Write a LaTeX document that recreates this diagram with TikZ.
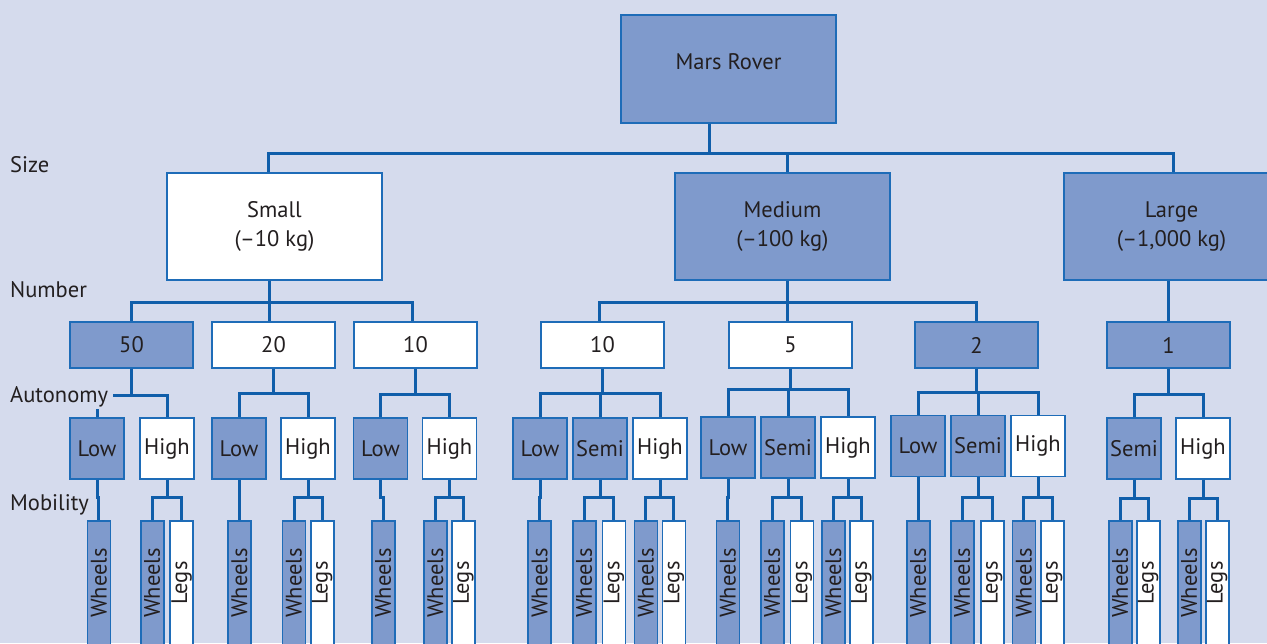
\documentclass[tikz,border=0pt]{standalone}
\usepackage{fontspec}
\setmainfont{PT Sans}
\definecolor{bg}{RGB}{213,219,237}
\definecolor{dark}{RGB}{127,154,204}
\definecolor{bord}{RGB}{30,108,184}
\definecolor{lin}{RGB}{16,94,170}
\definecolor{txt}{RGB}{35,31,32}
\newcommand{\mkfan}[3]{\foreach \c in {#3} \draw[conn] (#1) -- (#1 |- 0,#2) -| (\c.north);}
\begin{document}
\begin{tikzpicture}[x=1pt,y=-1pt,
  every node/.style={font=\fontsize{22.5}{28.5}\selectfont, text=txt},
  box/.style={draw=bord, line width=1.6pt, inner sep=0pt, align=center},
  dk/.style={box, fill=dark},
  wt/.style={box, fill=white},
  top/.style={minimum width=215pt, minimum height=107pt},
  num/.style={minimum width=123pt, minimum height=46pt},
  aut/.style={minimum width=54pt, minimum height=61pt},
  mob/.style={minimum width=23pt, minimum height=124pt},
  conn/.style={draw=lin, line width=3pt},
  lvl/.style={anchor=base west, inner sep=0pt}]
\clip (0,0) rectangle (1267,643);
\fill[bg] (0,0) rectangle (1267,643);

% level 0 and 1
\node[dk,top,minimum height=108pt] (mars) at (728.5,69) {};
\node[inner sep=0pt] (marst) at (728.5,62) {Mars Rover};
\node[wt,top] (small) at (274.5,226.5) {Small\\(–10 kg)};
\node[dk,top] (medium) at (782.5,226.5) {Medium\\(–100 kg)};
\node[dk,top] (large) at (1171.5,226.5) {Large\\(–1,000 kg)};

% number level
\node[dk,num] (n50) at (131.5,345) {50};
\node[wt,num] (n20) at (273.5,345) {20};
\node[wt,num] (n10s) at (415.5,345) {10};
\node[wt,num] (n10m) at (602.5,345) {10};
\node[wt,num] (n5) at (790.5,345) {5};
\node[dk,num] (n2) at (976.5,345) {2};
\node[dk,num] (n1) at (1168.5,345) {1};

% autonomy level
\node[dk,aut] (a50l) at (97,448.5) {Low};
\node[wt,aut] (a50h) at (167,448.5) {High};
\node[dk,aut] (a20l) at (239,448.5) {Low};
\node[wt,aut] (a20h) at (308,448.5) {High};
\node[dk,aut] (a10l) at (380.5,448.5) {Low};
\node[wt,aut] (a10h) at (449.5,448.5) {High};
\node[dk,aut] (b10l) at (540,448.5) {Low};
\node[dk,aut] (b10s) at (600,448.5) {Semi};
\node[wt,aut] (b10h) at (660,448.5) {High};
\node[dk,aut] (b5l) at (728,447.5) {Low};
\node[dk,aut] (b5s) at (788,447.5) {Semi};
\node[wt,aut] (b5h) at (848,447.5) {High};
\node[dk,aut] (b2l) at (918,446) {Low};
\node[dk,aut] (b2s) at (978,446) {Semi};
\node[wt,aut] (b2h) at (1038,446) {High};
\node[dk,aut] (c1s) at (1134,448.5) {Semi};
\node[wt,aut] (c1h) at (1203,448.5) {High};

% mobility level
\node[dk,mob] (a50lw) at (98.8,583) {\rotatebox{90}{Wheels}};
\node[dk,mob] (a50hw) at (152.2,583) {\rotatebox{90}{Wheels}};
\node[wt,mob] (a50hl) at (181.7,583) {\rotatebox{90}{Legs}};
\node[dk,mob] (a20lw) at (239.3,583) {\rotatebox{90}{Wheels}};
\node[dk,mob] (a20hw) at (294,583) {\rotatebox{90}{Wheels}};
\node[wt,mob] (a20hl) at (322.2,583) {\rotatebox{90}{Legs}};
\node[dk,mob] (a10lw) at (383.2,583) {\rotatebox{90}{Wheels}};
\node[dk,mob] (a10hw) at (435.5,583) {\rotatebox{90}{Wheels}};
\node[wt,mob] (a10hl) at (463.5,583) {\rotatebox{90}{Legs}};
\node[dk,mob] (b10lw) at (539.7,583) {\rotatebox{90}{Wheels}};
\node[dk,mob] (b10sw) at (584.2,583) {\rotatebox{90}{Wheels}};
\node[wt,mob] (b10sl) at (613.8,583) {\rotatebox{90}{Legs}};
\node[dk,mob] (b10hw) at (645.8,583) {\rotatebox{90}{Wheels}};
\node[wt,mob] (b10hl) at (673.8,583) {\rotatebox{90}{Legs}};
\node[dk,mob] (b5lw) at (727.8,583) {\rotatebox{90}{Wheels}};
\node[dk,mob] (b5sw) at (772.2,583) {\rotatebox{90}{Wheels}};
\node[wt,mob] (b5sl) at (801.8,583) {\rotatebox{90}{Legs}};
\node[dk,mob] (b5hw) at (833.5,583) {\rotatebox{90}{Wheels}};
\node[wt,mob] (b5hl) at (861.5,583) {\rotatebox{90}{Legs}};
\node[dk,mob] (b2lw) at (918.2,583) {\rotatebox{90}{Wheels}};
\node[dk,mob] (b2sw) at (962.2,583) {\rotatebox{90}{Wheels}};
\node[wt,mob] (b2sl) at (992.2,583) {\rotatebox{90}{Legs}};
\node[dk,mob] (b2hw) at (1023.8,583) {\rotatebox{90}{Wheels}};
\node[wt,mob] (b2hl) at (1052.2,583) {\rotatebox{90}{Legs}};
\node[dk,mob] (c1sw) at (1120.2,583) {\rotatebox{90}{Wheels}};
\node[wt,mob] (c1sl) at (1148.2,583) {\rotatebox{90}{Legs}};
\node[dk,mob] (c1hw) at (1189.2,583) {\rotatebox{90}{Wheels}};
\node[wt,mob] (c1hl) at (1217.2,583) {\rotatebox{90}{Legs}};

% drop points
\coordinate (md) at ([xshift=-19.5pt]mars.south);
\coordinate (sd) at ([xshift=-6.5pt]small.north);
\coordinate (med) at ([xshift=4.5pt]medium.north);
\coordinate (ld) at ([xshift=1.5pt]large.north);
\coordinate (ss) at ([xshift=-5.5pt]small.south);
\coordinate (ms) at ([xshift=4.5pt]medium.south);
\coordinate (ls) at ([xshift=-3pt]large.south);
\coordinate (n20t) at ([xshift=-4.5pt]n20.north);
\coordinate (n10st) at ([xshift=-3.5pt]n10s.north);
\coordinate (n10mt) at ([xshift=-3.5pt]n10m.north);
\coordinate (n5t) at ([xshift=-3.5pt]n5.north);

% connectors
\foreach \c in {sd,med,ld} \draw[conn] (md) -- (md |- 0,153) -| (\c);
\draw[conn] (ss) -- (ss |- 0,302.5) -| (n50.north);
\foreach \c in {n20t,n10st} \draw[conn] (ss) -- (ss |- 0,302.5) -| (\c);
\foreach \c in {n10mt,n5t} \draw[conn] (ms) -- (ms |- 0,302.5) -| (\c);
\draw[conn] (ms) -- (ms |- 0,302.5) -| (n2.north);
\draw[conn] (ls) -- (n1.north);

\mkfan{n50.south}{395}{a50l,a50h}
\mkfan{n20.south}{393}{a20l,a20h}
\mkfan{n10s.south}{394}{a10l,a10h}
\mkfan{n10m.south}{393}{b10l,b10s,b10h}
\mkfan{n5.south}{389}{b5l,b5s,b5h}
\mkfan{n2.south}{392}{b2l,b2s,b2h}
\mkfan{n1.south}{394}{c1s,c1h}

\mkfan{a50l.south}{497}{a50lw}
\mkfan{a50h.south}{497}{a50hw,a50hl}
\mkfan{a20l.south}{497}{a20lw}
\mkfan{a20h.south}{497}{a20hw,a20hl}
\mkfan{a10l.south}{497}{a10lw}
\mkfan{a10h.south}{497}{a10hw,a10hl}
\mkfan{b10l.south}{497}{b10lw}
\mkfan{b10s.south}{497}{b10sw,b10sl}
\mkfan{b10h.south}{497}{b10hw,b10hl}
\mkfan{b5l.south}{497}{b5lw}
\mkfan{b5s.south}{497}{b5sw,b5sl}
\mkfan{b5h.south}{497}{b5hw,b5hl}
\mkfan{b2l.south}{497}{b2lw}
\mkfan{b2s.south}{497}{b2sw,b2sl}
\mkfan{b2h.south}{497}{b2hw,b2hl}
\mkfan{c1s.south}{498}{c1sw,c1sl}
\mkfan{c1h.south}{498}{c1hw,c1hl}

% level labels
\node[lvl] (lsize) at (10,172) {Size};
\node[lvl] (lnum) at (10,297) {Number};
\node[lvl, fill=bg, inner xsep=5pt, inner ysep=2pt] (lauto) at (5,402.7) {Autonomy};
\node[lvl] (lmob) at (10,510) {Mobility};
\end{tikzpicture}
\end{document}
